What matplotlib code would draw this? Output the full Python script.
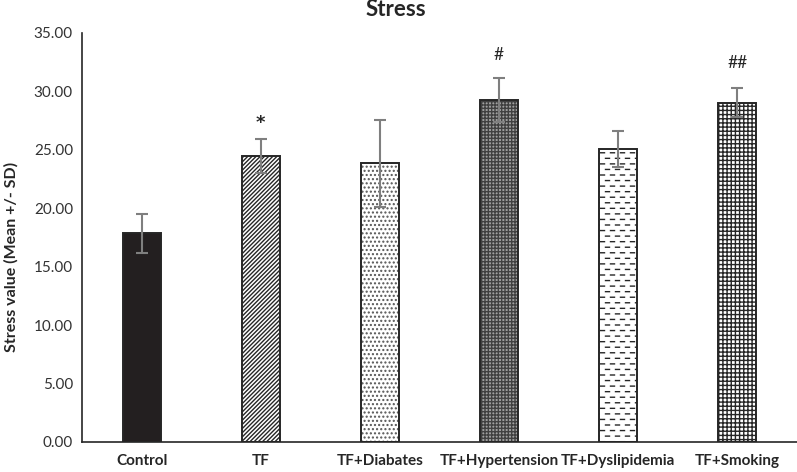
"""Stress value per group, Excel-style hatched bar chart with SD error bars."""

import warnings

import numpy as np
import matplotlib

matplotlib.use("Agg")
import matplotlib.pyplot as plt  # noqa: E402
from matplotlib import hatch as mhatch  # noqa: E402
from matplotlib.path import Path  # noqa: E402

warnings.filterwarnings("ignore")

groups = ["Control", "TF", "TF+Diabates", "TF+Hypertension", "TF+Dyslipidemia", "TF+Smoking"]
means = [17.85, 24.45, 23.85, 29.25, 25.05, 29.05]
sds = [1.65, 1.45, 3.70, 1.90, 1.55, 1.20]
marks = ["", "*", "", "#", "", "##"]
mark_y = [0, 27.3, 0, 33.1, 0, 32.4]
yticks = [0, 5, 10, 15, 20, 25, 30, 35]


class DashHatch(mhatch.HatchPatternBase):
    """Staggered short horizontal dashes, selected with '_'."""

    def __init__(self, hatch, density):
        self.num_rows = hatch.count("_") * density
        self.per_row = self.num_rows // 2 + 1
        self.num_vertices = self.num_rows * self.per_row * 2

    def set_vertices_and_codes(self, vertices, codes):
        period = 1.0 / self.per_row
        steps = np.arange(self.per_row) * period
        k = 0
        for i in range(self.num_rows):
            y = (i + 0.5) / self.num_rows
            shift = period / 2 if i % 2 else 0.0
            for x0 in steps + shift:
                vertices[k] = (x0 + period * 0.05, y)
                vertices[k + 1] = (x0 + period * 0.45, y)
                codes[k] = Path.MOVETO
                codes[k + 1] = Path.LINETO
                k += 2


mhatch._hatch_types.append(DashHatch)

plt.rcParams["font.family"] = ["Lato", "DejaVu Sans"]
plt.rcParams["hatch.linewidth"] = 1.0

faces = ["#231f20", "white", "white", "#a0a0a0", "white", "white"]
hatches = [None, "////////", "....", "+++++", "___", "++++"]
hatch_cols = ["#231f20", "#262626", "#555555", "#404040", "#262626", "#262626"]

fig = plt.figure(figsize=(7.97, 4.72), dpi=100)
ax = fig.add_axes([0.1029, 0.0636, 0.8971, 0.8665])

x = np.arange(len(groups))
for i in range(len(groups)):
    ax.bar(x[i], means[i], width=0.32, color=faces[i], hatch=hatches[i],
           edgecolor=hatch_cols[i], linewidth=0, zorder=2)
    ax.bar(x[i], means[i], width=0.32, fill=False, edgecolor="#262626",
           linewidth=1.4, zorder=3)

ax.errorbar(x, means, yerr=sds, fmt="none", ecolor="#7f7f7f", elinewidth=1.5,
            capsize=4, capthick=1.5, zorder=4)

for i, m in enumerate(marks):
    if m == "*":
        ax.text(x[i], mark_y[i], m, ha="center", va="center", fontsize=13,
                color="#262626", fontweight="bold", family="DejaVu Sans")
    elif m:
        ax.text(x[i], mark_y[i], m, ha="center", va="center", fontsize=12.5,
                color="#262626")

ax.set_xlim(-0.5, len(groups) - 0.5)
ax.set_ylim(0, 35)
ax.set_yticks(yticks)
ax.set_yticklabels([f"{v:.2f}" for v in yticks])
ax.set_xticks(x)
ax.set_xticklabels(groups, fontweight="bold")
ax.tick_params(axis="y", length=0, pad=6.5, labelsize=11, labelcolor="#333333")
ax.tick_params(axis="x", length=0, pad=9, labelsize=11, labelcolor="#262626")
for side in ("top", "right"):
    ax.spines[side].set_visible(False)
for side in ("left", "bottom"):
    ax.spines[side].set_color("#262626")
    ax.spines[side].set_linewidth(1.2)

ax.set_ylabel("Stress value (Mean +/- SD)", fontsize=11.5, fontweight="bold",
              color="#262626")
ax.yaxis.set_label_coords(-0.089, 0.452)
fig.text(396 / 797, 1 - 10 / 472, "Stress", ha="center", va="center",
         fontsize=16, fontweight="bold", color="#262626")

fig.savefig("out.png", dpi=100)
plt.close(fig)
